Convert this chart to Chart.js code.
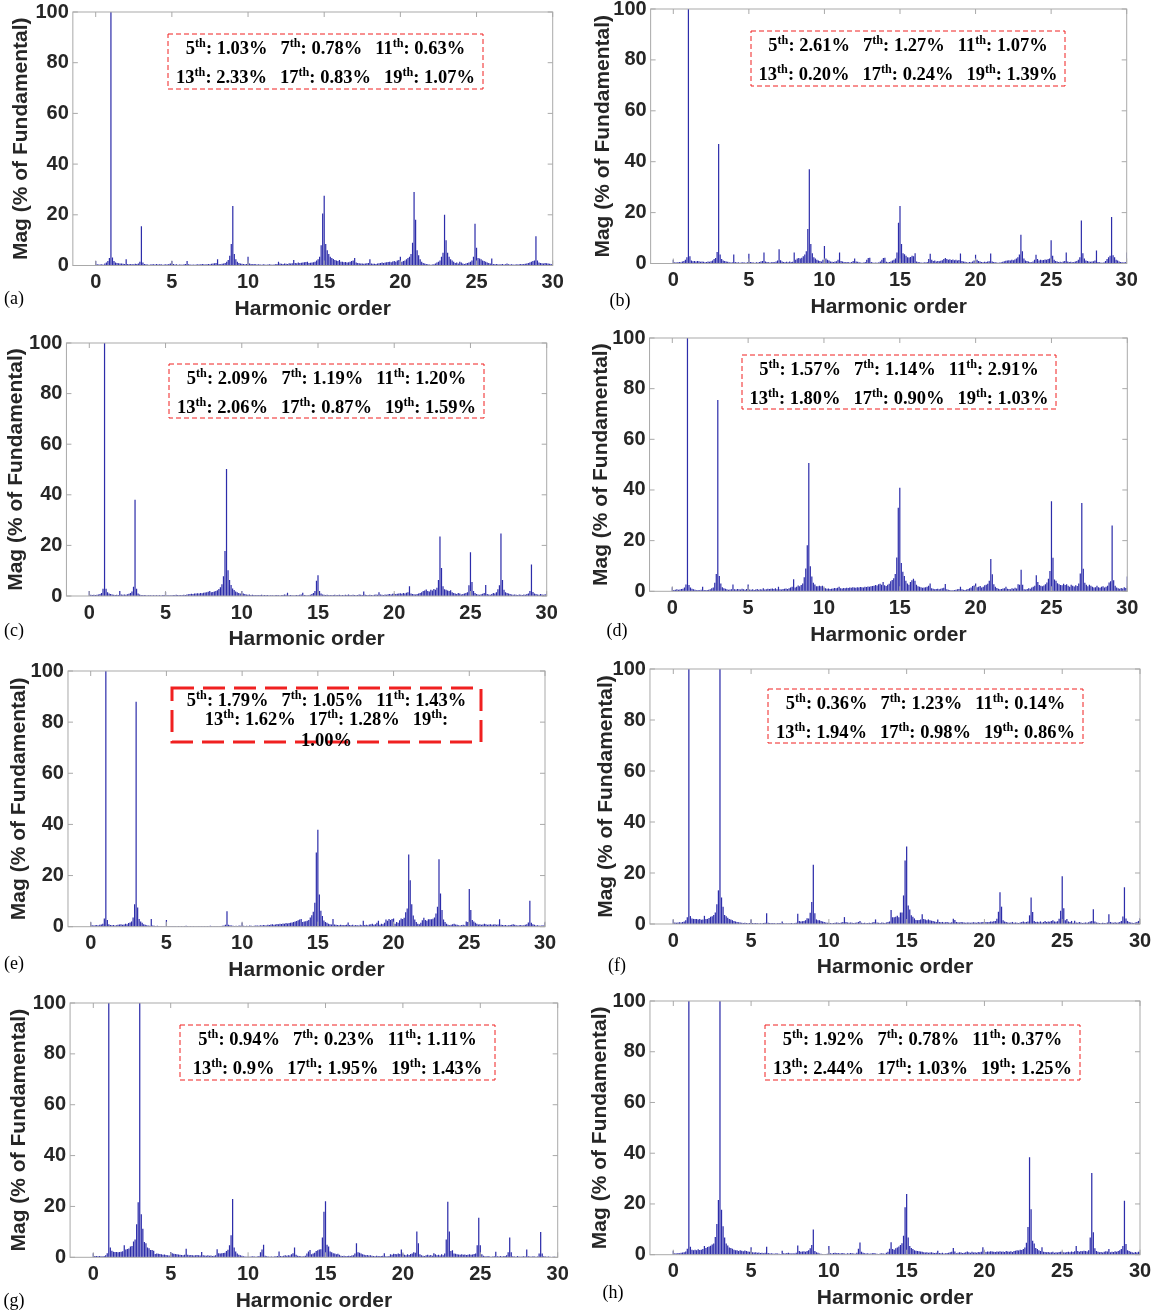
<!DOCTYPE html>
<html>
<head>
<meta charset="utf-8">
<script src="https://cdn.jsdelivr.net/npm/chart.js@4.4.1/dist/chart.umd.min.js"></script>
<style>
  body { margin: 0; background: #fff; width: 1163px; height: 1314px; position: relative; overflow: hidden; }
  canvas { position: absolute; }
  .tag { position: absolute; font-family: "Liberation Serif", serif; font-size: 18px; color: #000; transform: translate(-50%, -50%); }
</style>
</head>
<body>
<script>
// harmonic spectra, bins every 0.1 of the fundamental, 0 .. 30
const specA = [
  1.8,0.5,0.4,0.4,0.5,0.3,0.8,1.2,1.8,3,
  100,3.2,1.8,1.2,1,0.9,0.8,0.8,0.7,0.6,
  2.5,0.6,0.5,0.6,0.5,0.5,0.7,0.6,0.8,1.5,
  15.5,1.2,0.6,0.5,0.4,0.3,0.4,0.5,0.5,0.4,
  0.6,0.4,0.5,0.5,0.3,0.4,0.5,0.4,0.6,0.8,
  1.8,0.6,0.4,0.5,0.3,0.4,0.4,0.3,0.5,0.6,
  1.8,0.5,0.4,0.3,0.4,0.3,0.4,0.5,0.4,0.5,
  0.6,0.5,0.4,0.5,0.6,0.5,0.7,0.8,0.9,1,
  2.5,0.6,0.5,0.7,0.8,1,1.5,2.2,3.8,8.5,
  23.5,4.5,2.5,1.5,1,0.8,0.7,0.6,0.5,0.6,
  3.5,0.8,0.6,0.5,0.6,0.5,0.4,0.5,0.4,0.3,
  0.5,0.4,0.3,0.4,0.5,0.4,0.3,0.4,0.5,0.6,
  1.5,0.8,0.7,0.6,0.8,0.7,0.6,0.9,0.8,0.9,
  2.2,1,0.9,1.2,1,1.1,1.2,1.3,1.4,1.5,
  1,1.1,1.2,1.3,1.5,2,2.5,3.5,8,20.5,
  27.5,8.5,6,4.5,3.5,3,2.6,2.2,2,1.8,
  2.2,1.5,1.5,1.3,1.4,1.2,1.3,1.5,1.8,2,
  3,1.2,1,0.9,0.8,0.8,0.7,0.8,0.9,1,
  2.5,0.8,0.7,0.7,0.6,0.8,0.9,1,1.2,1,
  1.2,1.3,1.4,1.5,1.3,1.6,1.8,1.5,2,2.2,
  3.5,1.5,1.8,2,2.5,3,3.5,4.5,9,29,
  18,6,4,2.5,1.5,1,0.8,0.6,0.5,0.4,
  0.3,0.4,0.5,0.8,1.2,1.5,2,3.5,5,20,
  10,5,3.5,2.5,2,1.5,1,1.2,0.8,1.5,
  1.2,0.8,0.6,0.8,1,1.2,1.5,2,3.5,16.5,
  7,3,2.8,2.5,2,1.8,1.5,1.2,1,0.8,
  2.8,0.6,0.5,0.6,0.5,0.4,0.5,0.6,0.4,0.5,
  0.8,0.5,0.4,0.5,0.4,0.3,0.5,0.4,0.5,0.6,
  0.5,0.6,0.7,0.8,1,1.2,1.5,1.8,2,11.5,
  2,1.2,1,0.9,0.8,1,0.9,0.8,0.7,0.6,
  0.5
];
const specB = [
  1.5,0.5,0.4,0.5,0.6,0.5,0.8,1,1.5,2.5,
  100,2.8,1.2,0.9,1,0.8,1,0.9,0.7,0.8,
  0.7,0.5,0.6,0.8,0.7,0.9,1.2,1.8,2.2,4.5,
  47,3.5,1.8,1.2,1,0.8,0.7,0.5,0.4,0.5,
  3.5,0.6,0.4,0.5,0.3,0.4,0.5,0.4,0.3,0.5,
  3.8,0.6,0.5,0.4,0.3,0.5,0.4,0.6,0.8,1,
  4.3,0.8,0.6,0.5,0.4,0.5,0.6,0.5,0.8,1.2,
  5.6,1.3,0.8,0.6,0.5,0.7,0.5,0.8,0.6,0.7,
  4.3,1.5,2,2.2,2,2.3,2.8,3.5,4.8,13.6,
  37,7.7,4,2.5,2,1.5,1.2,1,0.8,1.5,
  6.9,2,1.5,1.2,0.8,0.7,0.6,0.8,0.9,1.5,
  4.3,1,0.8,0.6,0.5,0.6,0.5,0.4,0.6,1,
  2,0.8,0.7,0.5,0.4,0.3,0.4,0.6,1.5,2.2,
  2.3,0.6,0.4,0.3,0.4,0.3,0.5,0.8,1.5,2.2,
  2.3,0.7,0.5,0.6,0.8,1.2,1.5,2,4.3,16,
  22.6,7.7,4,3.6,3,2.5,2.4,2.6,3,2.8,
  4,0.8,0.6,0.5,0.4,0.3,0.5,0.4,0.6,1.8,
  3.8,1.5,1,1.2,0.8,1,0.9,1.1,1.3,1.8,
  2.2,1.8,1.5,1.7,1.4,1.6,1.3,1.5,1.2,1.4,
  3.9,1,0.8,0.7,0.5,0.4,0.6,0.5,0.8,1.2,
  3.4,1.5,1,0.8,0.6,0.5,0.7,0.6,0.8,0.9,
  3.9,0.8,0.6,0.5,0.4,0.3,0.4,0.5,0.7,0.9,
  1.1,1.2,1.3,1.2,1.5,1.3,1.6,2,2.5,3.5,
  11.3,4.8,2,1.2,1,0.8,0.6,0.5,0.8,1.5,
  3.4,1.8,1.2,1.5,1.3,1.4,1.6,1.5,1.8,2,
  9.1,3,1.5,1,0.8,0.6,0.7,0.5,0.8,1,
  4.3,0.8,0.6,0.7,0.5,0.6,0.8,1,1.5,2.5,
  16.9,4,2,1.2,1,0.8,0.7,0.8,0.9,1.2,
  5.1,0.6,0.5,0.4,0.3,0.5,1,1.8,2.5,3,
  18.3,3.2,2.5,1.5,1.2,0.8,0.6,0.5,0.4,0.6,
  4.3
];
const specC = [
  2,0.5,0.4,0.5,0.4,0.5,0.6,0.8,1.2,2.9,
  100,2.9,1.5,1,0.8,0.6,0.5,0.4,0.5,0.4,
  2,0.6,0.5,0.6,0.5,0.7,0.9,1.2,1.8,3.7,
  38,2.9,1,0.6,0.4,0.3,0.4,0.3,0.2,0.3,
  0.3,0.2,0.3,0.2,0.3,0.2,0.3,0.2,0.3,0.4,
  1.6,0.3,0.2,0.3,0.2,0.4,0.3,0.5,0.4,0.3,
  0.4,0.3,0.5,0.4,0.6,0.7,0.8,0.9,0.8,1,
  1,1.1,1,1.2,1.1,1.3,1.4,1.5,1.7,2,
  1.5,1.6,1.8,2,2.3,2.8,3.5,4.6,7.8,17.8,
  50.2,10.2,6.3,4.3,3,2.4,1.8,1.5,1.2,1,
  2,1,0.8,0.6,0.5,0.6,0.4,0.5,0.4,0.3,
  0.4,0.3,0.4,0.5,0.3,0.4,0.3,0.4,0.2,0.3,
  0.3,0.2,0.3,0.4,0.3,0.2,0.3,0.4,0.6,0.5,
  1.3,0.3,0.4,0.3,0.2,0.3,0.4,0.3,0.5,0.6,
  1.3,0.4,0.3,0.2,0.3,0.5,0.8,1.2,2,6,
  8.2,2,1,0.6,0.5,0.4,0.5,0.3,0.4,0.3,
  0.4,0.5,0.3,0.4,0.5,0.3,0.4,0.3,0.5,0.4,
  0.6,0.4,0.3,0.5,0.4,0.3,0.4,0.6,0.5,0.4,
  1.8,0.5,0.4,0.3,0.5,0.4,0.3,0.5,0.6,0.5,
  1.5,0.6,0.5,0.4,0.6,0.5,0.7,0.8,0.6,0.9,
  1,0.8,0.9,1,1.1,0.9,1.2,1,1.3,1.5,
  3.9,1,0.8,0.7,0.6,0.8,1,1.2,1.5,2,
  2.2,2.6,2,1.8,2.5,2.2,2.8,2.5,3.3,6.3,
  23.5,11.1,3.9,2.7,2.5,2.2,2,2.3,1.5,1.2,
  1,0.8,1.2,1,0.6,0.8,1,1.2,1.5,4.2,
  17.3,5.5,2,1.2,0.8,0.6,0.5,0.7,0.9,1.2,
  4.3,0.8,0.6,0.5,0.8,1.2,1,1.5,2.7,4.2,
  24.7,6.3,2.5,1.5,1.2,1,0.8,0.6,0.5,0.6,
  0.5,0.4,0.6,0.5,0.4,0.6,0.5,0.8,1,2,
  12.5,1.6,1,0.8,0.6,0.5,0.8,0.6,0.5,0.7,
  1.4
];
const specD = [
  1.6,0.5,0.6,0.8,0.6,0.7,0.9,1,1.5,2.7,
  100,2.5,1.5,1,0.8,0.6,0.4,0.5,0.4,0.6,
  1.8,0.5,0.4,0.5,0.6,0.8,1.2,1.5,3.4,6.8,
  75.5,6,3.1,1.6,1.2,1,0.8,0.6,0.7,0.8,
  2.7,0.8,0.7,0.9,0.8,0.7,1,0.8,0.6,0.9,
  2.7,0.7,0.6,0.8,0.5,0.7,0.9,0.6,0.8,0.7,
  1.2,0.7,0.8,1,0.9,1,1.1,0.9,1.2,0.8,
  1.8,0.8,0.7,0.9,1,1.1,0.9,1.2,1.5,1.8,
  4.8,1.5,1.8,2.3,2,2.5,3.1,5.5,9,18.2,
  50.7,9.9,5.8,3.4,2.7,2,2,2.2,2,2.2,
  1.5,1.2,1,1.1,0.9,1,1.1,1.3,1.2,1.4,
  1.8,1.2,1.1,1.3,1.2,1.4,1.3,1.5,1.4,1.6,
  1.5,1.4,1.6,1.5,1.7,1.6,1.5,1.8,1.7,1.9,
  1.8,2,2.1,2.2,2.5,2.3,2.8,3,2.6,3.7,
  2.4,2.1,2.6,3,4,4.5,5.2,6.8,13.3,33,
  40.9,11.2,7.7,6,4.2,3.1,2.6,3.7,4.4,5,
  4.2,2.6,2,1.8,1.6,1.4,1.5,1.6,1.8,2.2,
  3.1,1.2,1,0.8,0.9,1,0.8,1,1.2,1.4,
  2.9,0.8,0.6,0.5,0.3,0.4,0.5,0.6,0.8,0.9,
  1.8,0.8,0.6,0.5,0.7,0.9,1.2,1.5,2.1,2.3,
  3.1,1.6,1.8,2.1,1.5,1.8,2.4,2.6,3,4.2,
  12.8,6.7,2.8,1.8,1.3,1,0.8,0.9,1.1,1.2,
  1.8,1,0.9,0.8,1.2,1,1.4,1.1,2.8,2.6,
  8.5,2.6,0.8,0.7,0.9,1.2,1,1.5,1.8,2.2,
  6.3,3.7,2.5,2.2,2,2.3,2.8,3.5,5,8,
  35.6,13.2,4.7,4.2,3.2,2.8,2.5,2.4,3,2.5,
  2.8,2.2,1.8,2.6,2.2,1.9,2.4,2.1,3.1,7,
  34.9,8.9,3.4,2.6,2,2.6,2.2,1.8,1.5,1.6,
  2.2,1.6,1.4,1.8,2,1.5,1.8,2.2,3.5,4,
  26,4.4,2.2,1.5,1.2,1,1.3,1.1,1.6,1.3,
  5.8
];
const specE = [
  1.7,0.6,0.5,0.6,0.7,0.5,0.8,0.9,1.2,3.2,
  100,2.6,1,0.7,0.6,0.7,0.5,0.6,0.8,0.9,
  1,0.8,0.9,1.2,1,1.4,1.6,2,3.6,8.8,
  88,7.5,3,2,1.5,1,0.8,0.6,0.5,0.4,
  3,0.5,0.4,0.3,0.4,0.3,0.2,0.3,0.2,0.3,
  2.6,0.3,0.2,0.3,0.2,0.3,0.2,0.2,0.3,0.2,
  0.3,0.2,0.3,0.4,0.3,0.2,0.3,0.2,0.3,0.2,
  0.2,0.3,0.2,0.3,0.2,0.3,0.2,0.3,0.2,0.4,
  0.3,0.2,0.3,0.2,0.3,0.2,0.3,0.4,0.5,0.8,
  6,0.8,0.6,0.5,0.4,0.3,0.4,0.3,0.5,0.4,
  1.6,0.4,0.3,0.4,0.3,0.5,0.4,0.3,0.4,0.5,
  0.5,0.4,0.6,0.5,0.7,0.6,0.5,0.8,0.7,0.9,
  1,0.8,0.9,1.1,1,1.2,1.1,1.3,1.2,1.4,
  1.3,1.4,1.5,1.6,1.8,2,2.2,2.5,2.8,3,
  1.8,2,2.1,2.3,2.6,3.6,4.5,5.8,9.4,29,
  37.9,12.6,6.2,4.2,2.4,1.8,1.5,1.2,1,0.9,
  3,0.9,0.8,0.7,0.6,0.8,0.7,0.6,0.7,0.8,
  1.6,0.7,0.6,0.8,0.5,0.7,0.6,0.5,0.8,0.6,
  2.3,0.7,0.8,0.6,0.9,1,1.2,0.8,1,1.5,
  2.3,0.8,1.2,1,1.5,2.8,2.3,3,2.6,3,
  3.2,1.2,1.8,1.5,2.5,3.2,3,3.5,5.7,7.1,
  28.2,18.2,8.8,4.4,2.8,1.8,1.2,1,1.5,2.5,
  3.5,2.6,2.3,2.9,2.9,2.9,3.1,3.6,5.2,7.8,
  26.4,13,6.5,2.8,1.8,1.2,0.8,0.6,0.8,1,
  1.2,0.9,0.8,0.6,0.5,0.7,0.8,0.6,2,1.8,
  14.7,6.5,2.6,2,1.5,1.2,0.9,1,0.8,0.9,
  1.2,1,0.8,0.9,1,0.8,0.9,1,0.8,0.9,
  2.9,0.8,0.7,0.6,0.7,0.5,0.6,0.7,0.8,1,
  0.8,0.6,0.5,0.6,0.7,0.5,0.6,0.8,1,1.6,
  10.1,1.5,1,0.8,0.5,0.6,0.5,0.4,0.6,0.5,
  1.6
];
const specF = [
  1.8,0.6,0.5,0.6,0.7,0.6,0.8,1,1.5,2.6,
  100,3.1,2.2,2,2,2,1.8,2,1.7,1.8,
  3.2,2,2,2.4,2.8,3,3.5,4.5,7.7,13.2,
  100,10.4,6.8,3.5,3,2.5,2,1.8,1.5,1.2,
  1,0.8,0.7,0.6,0.5,0.4,0.5,0.4,0.3,0.4,
  1.8,0.4,0.3,0.4,0.3,0.2,0.3,0.2,0.4,0.5,
  4.2,0.5,0.4,0.3,0.4,0.3,0.2,0.3,0.4,0.3,
  1,0.3,0.2,0.3,0.2,0.3,0.4,0.2,0.3,0.5,
  4,1.2,1,1.1,1.2,1.5,2.3,2.2,4.4,8.6,
  23.2,4.2,1.8,1.5,1.5,1.2,1,0.8,0.6,0.5,
  0.5,0.4,0.3,0.4,0.5,0.6,0.5,0.4,0.6,0.8,
  2.7,0.8,0.6,0.5,0.6,0.5,0.4,0.5,0.6,0.8,
  1.2,0.5,0.4,0.5,0.3,0.4,0.5,0.4,0.6,0.8,
  1.8,0.6,0.5,0.4,0.6,0.5,0.4,0.6,0.8,1,
  5.5,2.6,2.6,2.8,3.2,2.6,4.5,4.5,11.2,24.9,
  30.4,7.3,5.7,3.4,2.8,2.2,1.6,1.5,1.6,1.8,
  3.8,2,1.8,1.5,1.8,1.5,1.3,1.2,1,0.8,
  1.8,0.8,0.7,0.8,0.6,0.7,0.8,0.6,0.5,0.7,
  2.1,1.6,0.8,0.7,0.6,0.8,0.7,0.6,0.5,0.6,
  0.6,0.5,0.6,0.7,0.6,0.5,0.8,0.6,0.7,0.8,
  0.9,0.8,0.7,0.8,1,0.9,1.1,1.2,2.1,4.8,
  12.5,6.8,1.5,1,0.8,0.6,0.5,0.6,0.8,0.5,
  0.6,0.5,0.4,0.6,0.8,1,0.7,0.8,1,3.4,
  10.4,4.7,1.2,0.8,0.9,0.7,1,0.6,0.8,1.2,
  0.8,1,0.9,1.2,1.5,1,0.9,1.1,2.1,5.2,
  18.7,6.2,1.5,2,1,0.8,1.2,0.5,1.3,0.6,
  0.5,0.8,0.6,0.4,0.5,0.6,0.5,0.7,1,1.2,
  5.8,1,0.6,0.5,0.4,0.3,0.5,0.4,0.3,0.6,
  3.8,0.8,0.6,0.5,0.7,0.5,0.6,0.8,1.2,2.9,
  14.4,2.2,1.2,0.8,0.6,0.5,0.4,0.6,0.8,1.2,
  2.3
];
const specG = [
  1.6,0.5,0.5,0.4,0.5,0.4,0.3,0.5,0.8,1.6,
  100,3.9,2.6,2.2,2.1,2.1,2,2.1,2.2,2.4,
  4.7,3.1,3.3,3.5,4.2,4.4,6.2,7,13,21.6,
  100,16.9,11.2,6,5.5,3.9,3.6,2.9,2.9,2.6,
  1.3,1.5,1.4,1.3,1.2,1,1.1,0.9,0.8,0.7,
  2.1,1.6,1.4,1.3,1.2,1.1,1,0.9,0.8,1,
  3.4,1,0.8,0.9,0.8,0.7,0.8,0.9,0.8,0.7,
  2.1,0.8,0.7,0.6,0.8,0.6,0.7,0.5,0.6,0.8,
  3.2,1.6,1.5,1.6,1.7,1.8,2.5,3,4.7,8.7,
  22.9,3.9,2.3,1.5,1,0.8,0.6,0.4,0.3,0.2,
  0.3,0.2,0.3,0.4,0.3,0.2,0.3,0.5,2,3.1,
  4.9,0.6,0.4,0.3,0.2,0.3,0.2,0.3,0.4,0.5,
  2.3,0.5,0.4,0.6,0.8,0.6,0.8,0.7,1.2,1.6,
  3.9,1,0.6,0.5,0.4,0.3,0.4,0.6,1.5,2.3,
  2.9,1.2,1.5,1.8,2.5,2.8,3.1,3.2,7.8,17.9,
  22,4.9,4.2,2.3,2,1.6,1.5,1.2,1.4,1,
  0.6,0.5,0.6,0.4,0.5,0.6,0.5,0.7,0.8,1.5,
  5.5,2,1.8,1.5,1.2,1,0.8,0.9,0.7,0.8,
  0.6,0.5,0.4,0.6,0.5,0.4,0.5,0.6,1.6,0.4,
  0.3,0.5,1.2,1,1.4,1.3,1.2,1.5,1.3,3.1,
  1.5,1,0.8,1.2,0.9,1.3,1.5,2,1.8,10.1,
  5.5,1.2,0.8,0.6,0.5,0.8,1,0.7,0.9,0.6,
  1.6,1.2,0.8,1,0.7,1.2,0.8,1.5,7,21.8,
  10.1,2.5,2.8,1.5,1.4,1.2,1.1,1,1.2,1,
  1.1,0.9,1,1.2,1,1.1,1.3,1.5,4.7,15.6,
  4.7,1.2,0.6,0.4,0.3,0.5,0.3,0.2,0.3,0.4,
  2.2,0.4,0.3,0.5,0.3,0.4,0.5,0.8,2,7.8,
  2,0.4,0.3,0.2,0.5,0.3,0.2,0.3,0.4,0.3,
  3.1,0.4,0.3,0.2,0.4,0.3,0.2,0.3,1.5,9.9,
  1.5,0.4,0.3,0.2,0.3,0.2,0.1,0.2,0.2,0.1,
  0.3
];
const specH = [
  1.6,0.6,0.5,0.7,0.6,0.8,0.9,1,1.3,2.3,
  100,3.1,2,1.8,2,1.8,2.1,1.9,2,2.2,
  3.4,2.6,3,3.2,3.5,4,4.4,7,12.1,21.6,
  100,17.7,11.2,6.8,4.4,3.6,2.8,2.6,2.3,2,
  1.8,1.8,1.5,1.8,1.6,1.4,1.7,1.5,1.3,1.2,
  2.9,1,0.9,1,0.8,0.9,0.7,0.8,0.6,0.8,
  3.1,0.7,0.5,0.6,0.5,0.4,0.6,0.5,0.4,0.3,
  1.6,0.6,0.5,0.7,0.8,0.6,0.5,0.6,0.5,0.8,
  3.6,1.5,1.2,1.3,1.4,1.2,1.5,1.8,2.5,3.8,
  9.9,1.5,1,0.8,0.5,0.4,0.3,0.2,0.3,0.4,
  3.4,0.6,0.5,0.7,0.8,0.6,0.7,0.5,0.6,0.7,
  0.5,0.4,0.6,0.5,0.7,0.6,0.5,0.4,0.8,2.3,
  4.8,1.2,0.8,0.6,0.5,0.6,0.4,0.5,0.6,0.7,
  0.5,0.4,0.3,0.5,0.6,0.5,0.4,0.8,1.2,2.3,
  4.9,2.2,2,2.5,2.8,3.2,3.8,4.5,7.5,18.7,
  23.9,6.8,3.4,2.6,2.2,1.8,1.6,1.5,1.4,1.3,
  1.2,1,0.9,1,0.8,0.9,1,0.8,0.7,0.8,
  1.6,0.7,0.6,0.8,0.5,0.6,0.7,0.8,1,1.2,
  2.6,1.3,0.6,0.8,1,0.9,0.7,0.8,1,1.3,
  1,0.8,1.2,0.9,1,0.8,1.1,1,1.2,2.9,
  1.4,1.1,1.3,1.2,1.4,1.3,1.2,1.1,1.3,1.2,
  1.4,1.2,1.3,1.1,1.5,1.3,1.2,1.4,1.1,1.5,
  1.6,1.8,1.7,2,1.9,2.2,2.8,4.7,10.9,38.4,
  17.9,5.5,4.4,2.6,2.2,1.8,1.5,2.9,1.2,1.1,
  1,1.1,0.9,1,1.2,0.8,1,0.9,1.1,1.2,
  1.3,1,0.9,1.1,1.2,1,1.3,1.1,1.4,3.4,
  1.5,1.2,1.5,1.4,1.6,1.5,1.3,1.8,6.8,32.2,
  8.8,2.5,1.5,1.2,1,1.1,0.9,1.2,1.4,1.3,
  2.2,1,1.2,1.1,1.4,1.2,1.5,1.8,2.2,3.4,
  21.3,4.2,1.8,1.5,1.2,1,0.8,1.1,0.9,1.2,
  1
];

// individual harmonic distortion printed in each box
const harmonicIds = [5, 7, 11, 13, 17, 19];
const pctA = ['1.03%', '0.78%', '0.63%', '2.33%', '0.83%', '1.07%'];
const pctB = ['2.61%', '1.27%', '1.07%', '0.20%', '0.24%', '1.39%'];
const pctC = ['2.09%', '1.19%', '1.20%', '2.06%', '0.87%', '1.59%'];
const pctD = ['1.57%', '1.14%', '2.91%', '1.80%', '0.90%', '1.03%'];
const pctE = ['1.79%', '1.05%', '1.43%', '1.62%', '1.28%', '1.00%'];
const pctF = ['0.36%', '1.23%', '0.14%', '1.94%', '0.98%', '0.86%'];
const pctG = ['0.94%', '0.23%', '1.11%', '0.9%', '1.95%', '1.43%'];
const pctH = ['1.92%', '0.78%', '0.37%', '2.44%', '1.03%', '1.25%'];

const xTicks = [0, 5, 10, 15, 20, 25, 30];
const yTicks = [0, 20, 40, 60, 80, 100];

const orders = specA.map((v, i) => i / 10);

const panels = [
  { spec: specA, pct: pctA, tag: '(a)', x0: 95.7, x30: 552.7, y100: 10, y0: 265.5, ytx: 21, tx: 14, ty: 298, box: [168, 34, 483, 89] },
  { spec: specB, pct: pctB, tag: '(b)', x0: 673.3, x30: 1126.7, y100: 7, y0: 263.5, ytx: 603, tx: 620, ty: 300, box: [751, 31, 1065, 86] },
  { spec: specC, pct: pctC, tag: '(c)', x0: 89.3, x30: 546.7, y100: 341, y0: 596, ytx: 16, tx: 14, ty: 630, box: [169, 364, 484, 418] },
  { spec: specD, pct: pctD, tag: '(d)', x0: 672.3, x30: 1127.3, y100: 336.3, y0: 591.3, ytx: 601, tx: 617, ty: 630, box: [742, 355, 1056, 409] },
  { spec: specE, pct: pctE, tag: '(e)', x0: 90.7, x30: 545, y100: 669.5, y0: 926.7, ytx: 19, tx: 14, ty: 963, box: [172, 688, 481, 742], thick: true },
  { spec: specF, pct: pctF, tag: '(f)', x0: 673.3, x30: 1140, y100: 667.5, y0: 924, ytx: 606, tx: 617, ty: 965, box: [768, 689, 1083, 743] },
  { spec: specG, pct: pctG, tag: '(g)', x0: 93.3, x30: 557.7, y100: 1001.5, y0: 1257.3, ytx: 19, tx: 14, ty: 1300, box: [180, 1025, 495, 1080] },
  { spec: specH, pct: pctH, tag: '(h)', x0: 673.3, x30: 1140, y100: 999.5, y0: 1254.7, ytx: 600, tx: 613, ty: 1292, box: [765, 1025, 1080, 1080] }
];

const axisFont = { family: '"Liberation Sans", Arial, sans-serif', size: 20, weight: 'bold' };
const titleFont = { family: '"Liberation Sans", Arial, sans-serif', size: 21, weight: 'bold' };
const noteSize = 18.5;

// box with inward tick marks, like matlab axes
const frame = {
  id: 'frame',
  afterDatasetsDraw(chart) {
    const { ctx, chartArea: a, scales: { x, y } } = chart;
    ctx.save();
    ctx.strokeStyle = '#a9a9a9';
    ctx.lineWidth = 1;
    ctx.strokeRect(a.left, a.top, a.right - a.left, a.bottom - a.top);
    ctx.beginPath();
    for (const t of y.ticks) {
      const py = y.getPixelForValue(t.value);
      ctx.moveTo(a.left, py); ctx.lineTo(a.left + 5, py);
      ctx.moveTo(a.right, py); ctx.lineTo(a.right - 5, py);
    }
    for (const t of x.ticks) {
      const px = x.getPixelForValue(t.value);
      ctx.moveTo(px, a.top); ctx.lineTo(px, a.top + 5);
      ctx.moveTo(px, a.bottom); ctx.lineTo(px, a.bottom - 5);
    }
    ctx.stroke();
    ctx.restore();
  }
};

function serif(size) {
  return 'bold ' + size + 'px "Liberation Serif", "Times New Roman", serif';
}

function itemParts(n, val) {
  if (n === null) return [[val, false]];
  return [[String(n), false], ['th', true], [val ? ': ' + val : ':', false]];
}

function drawLine(ctx, items, cx, cy) {
  const gap = noteSize * 0.7;
  const parts = items.map(([n, v]) => itemParts(n, v));
  const widths = parts.map(ps => ps.reduce((w, [s, sup]) => {
    ctx.font = serif(sup ? noteSize * 0.66 : noteSize);
    return w + ctx.measureText(s).width;
  }, 0));
  const total = widths.reduce((a, b) => a + b, 0) + gap * (items.length - 1);
  let x = cx - total / 2;
  const base = cy + noteSize * 0.33;
  ctx.fillStyle = '#000';
  ctx.textBaseline = 'alphabetic';
  ctx.textAlign = 'left';
  parts.forEach(ps => {
    for (const [s, sup] of ps) {
      ctx.font = serif(sup ? noteSize * 0.66 : noteSize);
      ctx.fillText(s, x, sup ? base - noteSize * 0.4 : base);
      x += ctx.measureText(s).width;
    }
    x += gap;
  });
}

function makeNote(p, offX, offY) {
  return {
    id: 'note',
    afterDraw(chart) {
      const ctx = chart.ctx;
      const [l, t, r, b] = p.box;
      ctx.save();
      ctx.strokeStyle = '#f02020';
      ctx.lineWidth = p.thick ? 3 : 1;
      ctx.setLineDash(p.thick ? [22, 9] : [5, 3]);
      ctx.strokeRect(l - offX, t - offY, r - l, b - t);
      ctx.setLineDash([]);
      const items = harmonicIds.map((n, i) => [n, p.pct[i]]);
      const cx = (l + r) / 2 - offX;
      if (p.thick) {
        drawLine(ctx, items.slice(0, 3), cx, t + 12 - offY);
        drawLine(ctx, [items[3], items[4], [19, '']], cx, t + 31 - offY);
        drawLine(ctx, [[null, p.pct[5]]], cx, t + 52 - offY);
      } else {
        drawLine(ctx, items.slice(0, 3), cx, t + 14 - offY);
        drawLine(ctx, items.slice(3), cx, t + 43 - offY);
      }
      ctx.restore();
    }
  };
}

function makePanel(p) {
  const unit = (p.x30 - p.x0) / 30;
  const L = p.x0 - 1.5 * unit, R = p.x30, T = p.y100, B = p.y0;
  const cl = Math.floor(L - 72), ct = Math.floor(T - 14);
  const cr = Math.ceil(R + 26), cb = Math.ceil(B + 62);
  const cv = document.createElement('canvas');
  cv.width = cr - cl; cv.height = cb - ct;
  cv.style.left = cl + 'px'; cv.style.top = ct + 'px';
  cv.style.width = (cr - cl) + 'px'; cv.style.height = (cb - ct) + 'px';
  document.body.appendChild(cv);

  const yW = L - cl, xH = cb - B;
  const lh = titleFont.size * 1.2;

  new Chart(cv, {
    type: 'bar',
    data: {
      datasets: [{
        data: orders.map((x, i) => ({ x: x, y: p.spec[i] })),
        backgroundColor: 'rgb(45,45,170)',
        borderWidth: 0,
        barPercentage: 0.8,
        categoryPercentage: 1
      }]
    },
    options: {
      responsive: false,
      animation: false,
      devicePixelRatio: 1,
      layout: { padding: { left: 0, top: T - ct, right: cr - R, bottom: 0 } },
      plugins: { legend: { display: false }, tooltip: { enabled: false } },
      scales: {
        x: {
          type: 'linear',
          offset: false,
          min: -1.5,
          max: 30,
          grid: { display: false, drawTicks: false },
          border: { display: false },
          afterBuildTicks: s => { s.ticks = xTicks.map(v => ({ value: v })); },
          afterFit: s => { s.height = xH; },
          ticks: { font: axisFont, color: '#262626', padding: 5, maxRotation: 0, autoSkip: false },
          title: { display: true, text: 'Harmonic order', font: titleFont, color: '#262626', padding: { top: 0, bottom: xH - 43.5 - lh / 2 } }
        },
        y: {
          min: 0,
          max: 100,
          grid: { display: false, drawTicks: false },
          border: { display: false },
          afterBuildTicks: s => { s.ticks = yTicks.map(v => ({ value: v })); },
          afterFit: s => { s.width = yW; },
          ticks: { font: axisFont, color: '#262626', padding: 4 },
          title: { display: true, text: 'Mag (% of Fundamental)', font: titleFont, color: '#262626', padding: { top: p.ytx - cl - lh / 2, bottom: 0 } }
        }
      }
    },
    plugins: [frame, makeNote(p, cl, ct)]
  });

  const tag = document.createElement('div');
  tag.className = 'tag';
  tag.textContent = p.tag;
  tag.style.left = p.tx + 'px';
  tag.style.top = p.ty + 'px';
  document.body.appendChild(tag);
}

panels.forEach(makePanel);
</script>
</body>
</html>
